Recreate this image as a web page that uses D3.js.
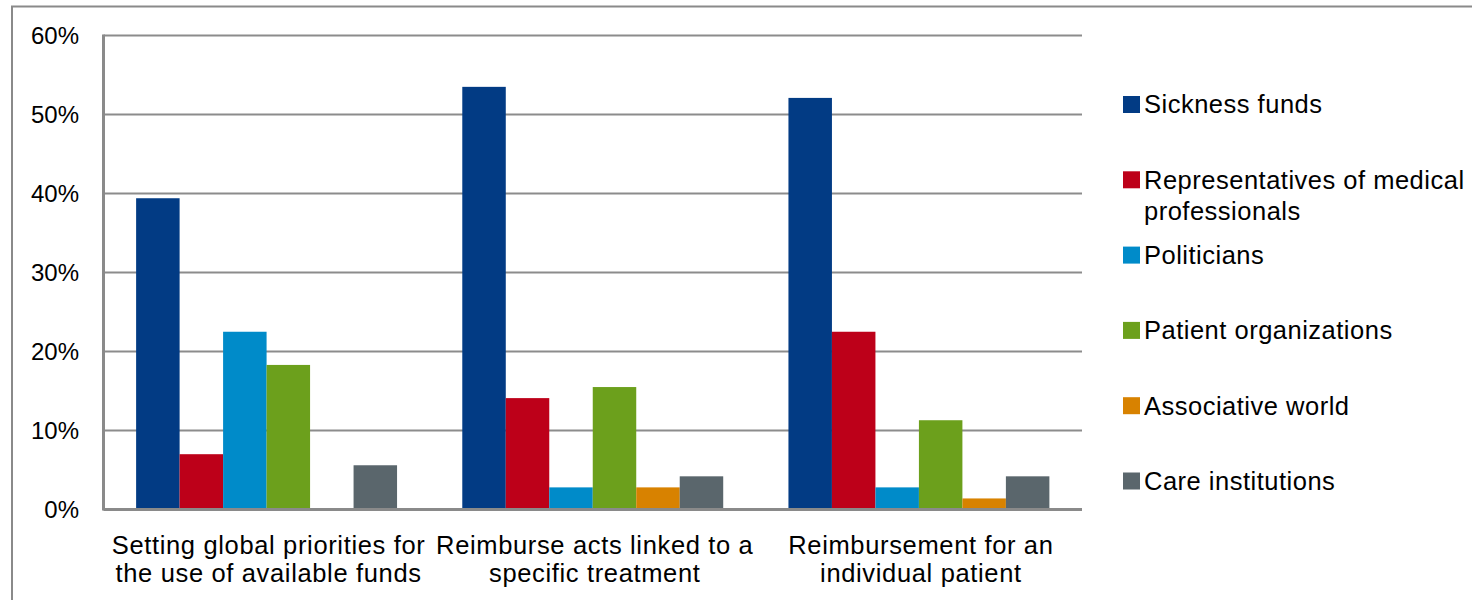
<!DOCTYPE html>
<html>
<head>
<meta charset="utf-8">
<script src="https://cdn.jsdelivr.net/npm/d3@7"></script>
<style>
  html, body { margin: 0; padding: 0; background: #fff; }
  svg { display: block; font-family: "Liberation Sans", Arial, sans-serif; }
</style>
</head>
<body>
<svg id="chart" width="1472" height="600"></svg>
<script>
// ---- data ----
const categories = [
  ["Setting global priorities for", "the use of available funds"],
  ["Reimburse acts linked to a", "specific treatment"],
  ["Reimbursement for an", "individual patient"]
];
const seriesNames = [
  ["Sickness funds"],
  ["Representatives of medical", "professionals"],
  ["Politicians"],
  ["Patient organizations"],
  ["Associative world"],
  ["Care institutions"]
];
const seriesColors = ["#023B84", "#BD0019", "#008BC9", "#6CA01C", "#D88200", "#5A666C"];
const sicknessFunds      = [39.4, 53.5, 52.1];
const medicalProfessionals = [7.0, 14.1, 22.5];
const politicians        = [22.5, 2.8, 2.8];
const patientOrgs        = [18.3, 15.5, 11.3];
const associativeWorld   = [0, 2.8, 1.4];
const careInstitutions   = [5.6, 4.2, 4.2];
const yTicks = [0, 10, 20, 30, 40, 50, 60];

const seriesValues = [sicknessFunds, medicalProfessionals, politicians, patientOrgs, associativeWorld, careInstitutions];

// ---- layout ----
const svg = d3.select("#chart");
const plot = { left: 103.5, right: 1082, top: 35.5, bottom: 509.5 };
const catKeys = categories.map((c, i) => "c" + i);
const serKeys = seriesNames.map((s, i) => "s" + i);

const x0 = d3.scaleBand().domain(catKeys).range([plot.left, plot.right]).paddingInner(0.2).paddingOuter(0.1);
const x1 = d3.scaleBand().domain(serKeys).range([0, x0.bandwidth()]).padding(0);
const y = d3.scaleLinear().domain([0, 60]).range([plot.bottom, plot.top]);

// outer frame
svg.append("rect").attr("x", 12).attr("y", 6.5).attr("width", 1500).attr("height", 700)
  .attr("fill", "none").attr("stroke", "#8a8a8a").attr("stroke-width", 2);

// gridlines
svg.append("g").selectAll("line").data(yTicks.filter(t => t > 0)).join("line")
  .attr("x1", plot.left).attr("x2", plot.right)
  .attr("y1", d => y(d)).attr("y2", d => y(d))
  .attr("stroke", "#8c8c8c").attr("stroke-width", 2);

// y axis labels
const yAxis = d3.axisLeft(y).tickValues(yTicks).tickFormat(d => d + "%").tickSize(0).tickPadding(0);
const yg = svg.append("g").attr("transform", `translate(79,0)`).call(yAxis);
yg.select(".domain").remove();
yg.selectAll("text").attr("font-size", 24).attr("fill", "#000").attr("font-family", "Liberation Sans, Arial, sans-serif").attr("dy", "0.35em");

// bars
const groups = svg.append("g").selectAll("g").data(catKeys).join("g")
  .attr("transform", d => `translate(${x0(d)},0)`);
groups.selectAll("rect").data((d, ci) => seriesValues.map((vals, si) => ({ s: serKeys[si], v: vals[ci], c: seriesColors[si] })))
  .join("rect")
  .attr("x", d => x1(d.s))
  .attr("width", x1.bandwidth())
  .attr("y", d => y(d.v))
  .attr("height", d => y(0) - y(d.v))
  .attr("fill", d => d.c);

// axes lines
svg.append("line").attr("x1", plot.left).attr("x2", plot.left).attr("y1", plot.top - 1).attr("y2", plot.bottom + 1)
  .attr("stroke", "#8a8a8a").attr("stroke-width", 3);
svg.append("line").attr("x1", plot.left).attr("x2", plot.right).attr("y1", plot.bottom).attr("y2", plot.bottom)
  .attr("stroke", "#8a8a8a").attr("stroke-width", 3);

// x labels
const xl = svg.append("g").selectAll("text").data(catKeys).join("text")
  .attr("x", d => x0(d) + x0.bandwidth() / 2 + 2)
  .attr("y", 554)
  .attr("text-anchor", "middle")
  .attr("font-size", 25.5)
  .attr("letter-spacing", 0.65)
  .attr("fill", "#000");
xl.each(function(d, i) {
  const t = d3.select(this);
  categories[i].forEach((line, li) => {
    t.append("tspan").attr("x", x0(d) + x0.bandwidth() / 2 + 2).attr("dy", li === 0 ? 0 : 28).text(line);
  });
});

// legend
const legendY = d3.scalePoint().domain(serKeys).range([104.5, 481]);
const lg = svg.append("g").selectAll("g").data(serKeys).join("g")
  .attr("transform", d => `translate(1123,${legendY(d)})`);
lg.append("rect").attr("x", 0).attr("y", -8.5).attr("width", 17).attr("height", 17)
  .attr("fill", (d, i) => seriesColors[i]);
lg.append("text").attr("x", 21).attr("y", 0)
  .attr("font-size", 25.5).attr("letter-spacing", 0.5).attr("fill", "#000")
  .each(function(d, i) {
    const t = d3.select(this);
    seriesNames[i].forEach((line, li) => {
      t.append("tspan").attr("x", 21).attr("dy", li === 0 ? "0.35em" : 31).text(line);
    });
  });
</script>
</body>
</html>
